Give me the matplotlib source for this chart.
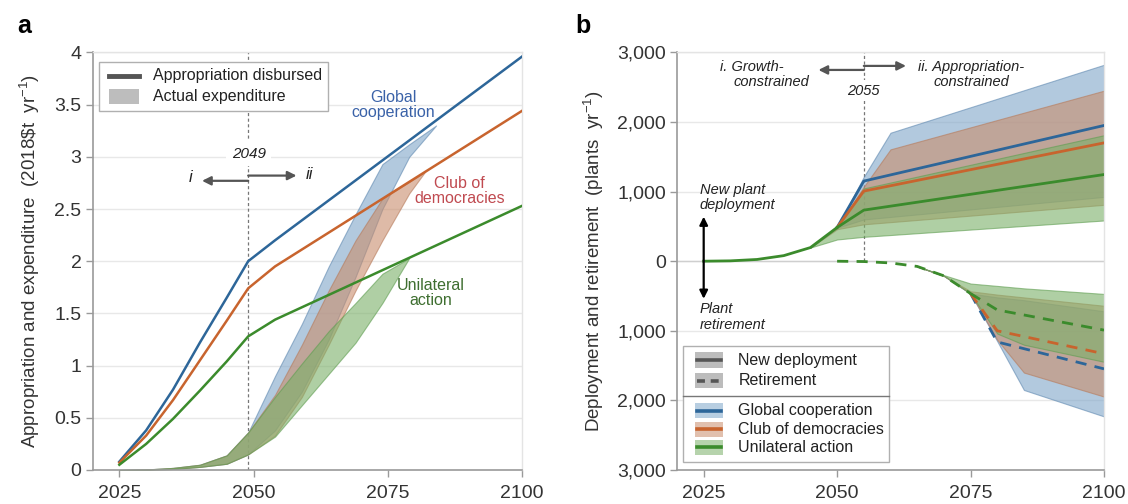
import matplotlib
matplotlib.use("Agg")
import matplotlib.pyplot as plt
from matplotlib.patches import Rectangle
from matplotlib.lines import Line2D
from matplotlib.ticker import FuncFormatter

plt.rcParams['font.family'] = ['Liberation Sans', 'DejaVu Sans']
plt.rcParams['mathtext.fontset'] = 'custom'
plt.rcParams['mathtext.rm'] = 'Liberation Sans'
plt.rcParams['mathtext.it'] = 'Liberation Sans:italic'
plt.rcParams['mathtext.default'] = 'regular'

# ---------------- data: panel a ----------------
years_app = [2025, 2030, 2035, 2040, 2045, 2049, 2054, 2100]
app_global = [0.08, 0.38, 0.77, 1.22, 1.65, 2.00, 2.20, 3.96]
app_club = [0.07, 0.33, 0.67, 1.05, 1.43, 1.74, 1.95, 3.44]
app_unilateral = [0.05, 0.25, 0.49, 0.76, 1.04, 1.28, 1.44, 2.53]

exp_years_global = [2025, 2030, 2035, 2040, 2045, 2049, 2054, 2059, 2064, 2069, 2074, 2079, 2084]
exp_global_hi = [0, 0.005, 0.02, 0.05, 0.14, 0.36, 0.90, 1.40, 1.95, 2.45, 2.93, 3.12, 3.30]
exp_global_lo = [0, 0.003, 0.01, 0.03, 0.06, 0.15, 0.38, 0.75, 1.25, 1.85, 2.50, 3.00, 3.30]

exp_years_club = [2025, 2030, 2035, 2040, 2045, 2049, 2054, 2059, 2064, 2069, 2074, 2079, 2082]
exp_club_hi = [0, 0.005, 0.02, 0.05, 0.14, 0.36, 0.72, 1.20, 1.72, 2.20, 2.60, 2.76, 2.86]
exp_club_lo = [0, 0.003, 0.01, 0.03, 0.06, 0.15, 0.33, 0.70, 1.20, 1.72, 2.20, 2.65, 2.86]

exp_years_unilateral = [2025, 2030, 2035, 2040, 2045, 2049, 2054, 2059, 2064, 2069, 2074, 2079]
exp_unilateral_hi = [0, 0.005, 0.02, 0.05, 0.14, 0.36, 0.70, 1.02, 1.33, 1.60, 1.88, 2.03]
exp_unilateral_lo = [0, 0.003, 0.01, 0.03, 0.06, 0.15, 0.32, 0.62, 0.92, 1.22, 1.60, 2.03]

# ---------------- data: panel b ----------------
dep_years_early = [2025, 2030, 2035, 2040, 2045, 2050]
dep_early = [0, 5, 25, 80, 196, 485]
dep_years_late = [2050, 2055, 2100]
dep_global = [485, 1151, 1950]
dep_club = [485, 1007, 1700]
dep_unilateral = [485, 734, 1245]

dep_band_years = [2045, 2050, 2055, 2060, 2100]
dep_global_hi = [196, 485, 1213, 1846, 2822]
dep_global_lo = [196, 480, 600, 636, 924]
dep_club_hi = [196, 485, 1070, 1607, 2450]
dep_club_lo = [196, 460, 530, 561, 810]
dep_unilateral_hi = [196, 485, 1046, 1130, 1810]
dep_unilateral_lo = [196, 312, 350, 376, 585]

ret_years_early = [2050, 2055, 2060, 2065, 2070, 2075]
ret_early = [0, -5, -25, -75, -210, -465]
ret_years_late = [2075, 2080, 2100]
ret_global = [-465, -1160, -1547]
ret_club = [-465, -1000, -1330]
ret_unilateral = [-465, -700, -990]

ret_band_years = [2065, 2070, 2075, 2080, 2085, 2100]
ret_global_hi = [-75, -210, -465, -520, -560, -720]
ret_global_lo = [-75, -210, -465, -1150, -1850, -2230]
ret_club_hi = [-75, -210, -432, -480, -520, -640]
ret_club_lo = [-75, -210, -465, -1130, -1600, -1945]
ret_unilateral_hi = [-75, -200, -321, -355, -390, -470]
ret_unilateral_lo = [-75, -210, -465, -1040, -1200, -1445]

xticks = [2025, 2050, 2075, 2100]
yticks_a = [0, 0.5, 1, 1.5, 2, 2.5, 3, 3.5, 4]
yticklabels_a = ['0', '0.5', '1', '1.5', '2', '2.5', '3', '3.5', '4']
yticks_b = [-3000, -2000, -1000, 0, 1000, 2000, 3000]

# ---------------- styles ----------------
C_BLUE = '#2d6699'
C_ORANGE = '#c8642e'
C_GREEN = '#3b8b2c'
F_BLUE = '#7fa6c9'
F_ORANGE = '#c98d6c'
F_GREEN = '#7bb068'
E_BLUE = '#5f88b0'
E_ORANGE = '#b67a5a'
E_GREEN = '#5e9d50'
FA = 0.6
TICK_C = '#333333'

fig = plt.figure(figsize=(11.28, 5.04), dpi=100)
ax_a = fig.add_axes([92.5 / 1128, 34 / 504, 429.5 / 1128, 417.6 / 504])
ax_b = fig.add_axes([677 / 1128, 34 / 504, 427 / 1128, 417.6 / 504])


def style_axes(ax):
    for s in ['left', 'bottom']:
        ax.spines[s].set_color('#9a9a9a')
        ax.spines[s].set_linewidth(1.2)
    for s in ['top', 'right']:
        ax.spines[s].set_color('#e4e4e4')
        ax.spines[s].set_linewidth(1.0)
    ax.tick_params(axis='both', direction='out', length=5, width=1, color='#9a9a9a',
                   labelsize=14, labelcolor=TICK_C, pad=3)
    ax.tick_params(axis='x', pad=6)
    ax.grid(axis='y', color='#e8e8e8', lw=1.0)
    ax.set_axisbelow(True)
    ax.set_xlim(2020, 2100)
    ax.set_xticks(xticks)


# ================= panel a =================
style_axes(ax_a)
ax_a.set_ylim(0, 4)
ax_a.set_yticks(yticks_a)
ax_a.set_yticklabels(yticklabels_a)
ax_a.set_ylabel(r'Appropriation and expenditure  (2018\$t  yr$^{-1}$)',
                fontsize=13.5, color='#333333', labelpad=9)

ax_a.fill_between(exp_years_global, exp_global_lo, exp_global_hi, facecolor=F_BLUE,
                  edgecolor=E_BLUE, lw=0.8, alpha=FA, zorder=2)
ax_a.fill_between(exp_years_club, exp_club_lo, exp_club_hi, facecolor=F_ORANGE,
                  edgecolor=E_ORANGE, lw=0.8, alpha=FA, zorder=2)
ax_a.fill_between(exp_years_unilateral, exp_unilateral_lo, exp_unilateral_hi, facecolor=F_GREEN,
                  edgecolor=E_GREEN, lw=0.8, alpha=FA, zorder=2)

ax_a.plot(years_app, app_global, color=C_BLUE, lw=1.8, zorder=3)
ax_a.plot(years_app, app_club, color=C_ORANGE, lw=1.8, zorder=3)
ax_a.plot(years_app, app_unilateral, color=C_GREEN, lw=1.8, zorder=3)

ax_a.axvline(2049, color='#777777', lw=0.9, ls=(0, (2.5, 2)), zorder=1)
ax_a.text(2049.1, 3.03, '2049', style='italic', fontsize=11, ha='center', va='center',
          color='#222222', zorder=4,
          bbox=dict(boxstyle='square,pad=0.35', fc='white', ec='none'))
ax_a.annotate('', xy=(2040.4, 2.77), xytext=(2049, 2.77),
              arrowprops=dict(arrowstyle='-|>', color='#555555', lw=1.6, mutation_scale=13,
                              shrinkA=0, shrinkB=0))
ax_a.annotate('', xy=(2058.0, 2.82), xytext=(2049, 2.82),
              arrowprops=dict(arrowstyle='-|>', color='#555555', lw=1.6, mutation_scale=13,
                              shrinkA=0, shrinkB=0))
ax_a.text(2038.2, 2.80, 'i', style='italic', fontsize=12, ha='center', va='center', color='#222222')
ax_a.text(2060.4, 2.83, 'ii', style='italic', fontsize=12, ha='center', va='center', color='#222222')

ax_a.text(2076.1, 3.50, 'Global\ncooperation', color='#3a62a8', fontsize=11.5, ha='center',
          va='center', linespacing=1.0)
ax_a.text(2088.4, 2.67, 'Club of\ndemocracies', color='#c04a50', fontsize=11.5, ha='center',
          va='center', linespacing=1.0)
ax_a.text(2083.0, 1.70, 'Unilateral\naction', color='#3e6e30', fontsize=11.5, ha='center',
          va='center', linespacing=1.0)

# legend a (manual)
ta = ax_a.transAxes
ax_a.add_patch(Rectangle((0.0158, 0.8596), 0.5328, 0.1181, transform=ta, fc='white',
                         ec='#b0b0b0', lw=1.0, zorder=5))
ax_a.add_line(Line2D([0.039, 0.109], [0.9435, 0.9435], transform=ta, color='#555555',
                     lw=3.5, zorder=6))
ax_a.add_patch(Rectangle((0.039, 0.876), 0.07, 0.036, transform=ta, fc='#bdbdbd',
                         ec='none', zorder=6))
ax_a.text(0.1416, 0.9435, 'Appropriation disbursed', transform=ta, fontsize=11.5, va='center',
          color='#222222', zorder=6)
ax_a.text(0.1416, 0.894, 'Actual expenditure', transform=ta, fontsize=11.5, va='center',
          color='#222222', zorder=6)

# ================= panel b =================
style_axes(ax_b)
ax_b.set_ylim(-3000, 3000)
ax_b.set_yticks(yticks_b)
ax_b.yaxis.set_major_formatter(FuncFormatter(lambda v, p: f'{abs(int(v)):,}'))
ax_b.axhline(0, color='#cfcfcf', lw=1.0, zorder=1)
ax_b.set_ylabel(r'Deployment and retirement  (plants  yr$^{-1}$)',
                fontsize=13.5, color='#333333', labelpad=8)

ax_b.fill_between(dep_band_years, dep_global_lo, dep_global_hi, facecolor=F_BLUE,
                  edgecolor=E_BLUE, lw=0.8, alpha=FA, zorder=2)
ax_b.fill_between(dep_band_years, dep_club_lo, dep_club_hi, facecolor=F_ORANGE,
                  edgecolor=E_ORANGE, lw=0.8, alpha=FA, zorder=2)
ax_b.fill_between(dep_band_years, dep_unilateral_lo, dep_unilateral_hi, facecolor=F_GREEN,
                  edgecolor=E_GREEN, lw=0.8, alpha=FA, zorder=2)
ax_b.fill_between(ret_band_years, ret_global_lo, ret_global_hi, facecolor=F_BLUE,
                  edgecolor=E_BLUE, lw=0.8, alpha=FA, zorder=2)
ax_b.fill_between(ret_band_years, ret_club_lo, ret_club_hi, facecolor=F_ORANGE,
                  edgecolor=E_ORANGE, lw=0.8, alpha=FA, zorder=2)
ax_b.fill_between(ret_band_years, ret_unilateral_lo, ret_unilateral_hi, facecolor=F_GREEN,
                  edgecolor=E_GREEN, lw=0.8, alpha=FA, zorder=2)

ax_b.plot(dep_years_late, dep_global, color=C_BLUE, lw=2.0, zorder=3)
ax_b.plot(dep_years_late, dep_club, color=C_ORANGE, lw=2.0, zorder=3)
ax_b.plot(dep_years_late, dep_unilateral, color=C_GREEN, lw=2.0, zorder=3)
ax_b.plot(dep_years_early, dep_early, color=C_GREEN, lw=2.0, zorder=3)

DASH = (0, (4, 3))
ax_b.plot(ret_years_late, ret_global, color=C_BLUE, lw=2.0, ls=DASH, zorder=3)
ax_b.plot(ret_years_late, ret_club, color=C_ORANGE, lw=2.0, ls=DASH, zorder=3)
ax_b.plot(ret_years_late, ret_unilateral, color=C_GREEN, lw=2.0, ls=DASH, zorder=3)
ax_b.plot(ret_years_early, ret_early, color=C_GREEN, lw=2.0, ls=DASH, zorder=3)

ax_b.axvline(2055, color='#777777', lw=0.9, ls=(0, (2.5, 2)), zorder=1, ymin=0.5)
ax_b.text(2055, 2450, '2055', style='italic', fontsize=10.5, ha='center', va='center',
          color='#222222', zorder=4,
          bbox=dict(boxstyle='square,pad=0.25', fc='white', ec='none'))
ax_b.annotate('', xy=(2046.5, 2748), xytext=(2055, 2748),
              arrowprops=dict(arrowstyle='-|>', color='#555555', lw=1.6, mutation_scale=13,
                              shrinkA=0, shrinkB=0))
ax_b.annotate('', xy=(2062.9, 2806), xytext=(2055, 2806),
              arrowprops=dict(arrowstyle='-|>', color='#555555', lw=1.6, mutation_scale=13,
                              shrinkA=0, shrinkB=0))
ax_b.text(2034.0, 2796, 'i. Growth-', style='italic', fontsize=10.5, ha='center', va='center',
          color='#222222')
ax_b.text(2037.7, 2571, 'constrained', style='italic', fontsize=10.5, ha='center', va='center',
          color='#222222')
ax_b.text(2075.1, 2796, 'ii. Appropriation-', style='italic', fontsize=10.5, ha='center',
          va='center', color='#222222')
ax_b.text(2075.1, 2571, 'constrained', style='italic', fontsize=10.5, ha='center', va='center',
          color='#222222')

ax_b.annotate('', xy=(2025, 640), xytext=(2025, -540),
              arrowprops=dict(arrowstyle='<|-|>', color='black', lw=1.6, mutation_scale=12,
                              shrinkA=0, shrinkB=0))
ax_b.text(2024.3, 1022, 'New plant', style='italic', fontsize=10.5, ha='left', va='center',
          color='#222222')
ax_b.text(2024.3, 806, 'deployment', style='italic', fontsize=10.5, ha='left', va='center',
          color='#222222')
ax_b.text(2024.3, -690, 'Plant', style='italic', fontsize=10.5, ha='left', va='center',
          color='#222222')
ax_b.text(2024.3, -920, 'retirement', style='italic', fontsize=10.5, ha='left', va='center',
          color='#222222')

# legend b (manual)
tb = ax_b.transAxes
ax_b.add_patch(Rectangle((0.0148, 0.0199), 0.4817, 0.2771, transform=tb, fc='white',
                         ec='#b0b0b0', lw=1.0, zorder=5))
ax_b.add_line(Line2D([0.0148, 0.4965], [0.178, 0.178], transform=tb, color='#777777',
                     lw=1.0, zorder=6))
hx0, hx1 = 0.042, 0.108
hh = 0.036
rows = [
    (0.2634, '#bcbcbc', '#555555', '-', 'New deployment'),
    (0.2138, '#bcbcbc', '#555555', (0, (2.2, 1.6)), 'Retirement'),
    (0.1420, F_BLUE, C_BLUE, '-', 'Global cooperation'),
    (0.0975, F_ORANGE, C_ORANGE, '-', 'Club of democracies'),
    (0.0544, F_GREEN, C_GREEN, '-', 'Unilateral action'),
]
for yy, fc, lc, ls, lab in rows:
    ax_b.add_patch(Rectangle((hx0, yy - hh / 2), hx1 - hx0, hh, transform=tb, fc=fc,
                             ec='none', alpha=1.0 if fc == '#bcbcbc' else 0.55, zorder=6))
    ax_b.add_line(Line2D([hx0 + 0.004, hx1 - 0.004], [yy, yy], transform=tb, color=lc,
                         lw=2.6, ls=ls, zorder=7))
    ax_b.text(0.1436, yy, lab, transform=tb, fontsize=11.5, va='center', color='#222222',
              zorder=7)

# panel labels
fig.text(17 / 1128, 1 - 33 / 504, 'a', fontsize=18, fontweight='bold', ha='left',
         va='baseline')
fig.text(575 / 1128, 1 - 33 / 504, 'b', fontsize=18, fontweight='bold', ha='left',
         va='baseline')

fig.savefig('out.png', dpi=100)
